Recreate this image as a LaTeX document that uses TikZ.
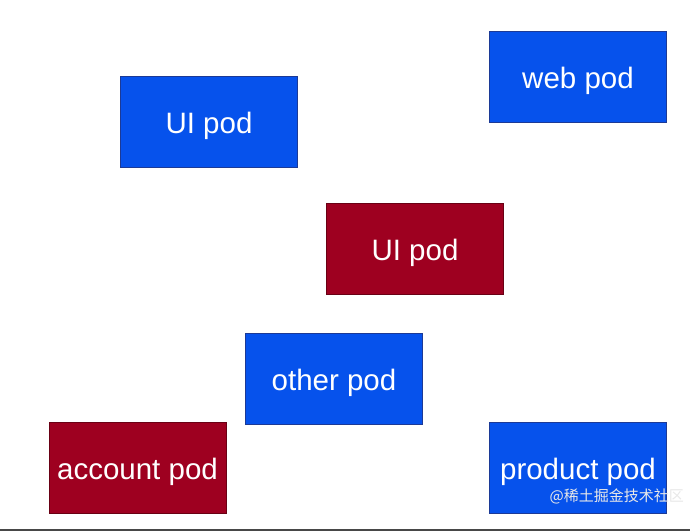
\documentclass[tikz,border=0pt]{standalone}
\usepackage{fontspec}
\setmainfont{Liberation Sans}
\newfontfamily\cjkfont{Noto Sans CJK SC}
\usepackage{xcolor}
\usetikzlibrary{positioning}

\definecolor{podblue}{RGB}{6,82,236}
\definecolor{podblueline}{RGB}{28,58,150}
\definecolor{podred}{RGB}{158,0,32}
\definecolor{podredline}{RGB}{105,0,20}
\definecolor{bargray}{RGB}{72,72,72}

\begin{document}
\begin{tikzpicture}[
  x=1pt, y=-1pt,
  pod/.style={rectangle, draw=podblueline, line width=0.8pt, fill=podblue,
              minimum width=177pt, minimum height=91pt, inner sep=0pt,
              text height=22pt, text depth=0pt,
              text=white, font=\fontsize{29.5}{34}\selectfont},
  redpod/.style={pod, draw=podredline, fill=podred}
]
\useasboundingbox[fill=white] (0,0) rectangle (690,531);

% Blue pods
\node[pod] (ui) at (209,122) {UI pod};
\node[pod] (web) at (578,77) {web pod};
\node[pod] (other) at (334,379) {other pod};
\node[pod] (product) at (578,468) {product pod};

% Red pods
\node[redpod] (uired) at (415,249) {UI pod};
\node[redpod] (account) at (137.5,468) {account pod};

% Watermark
\node[text=white!82!gray, font=\cjkfont\fontsize{15}{17}\selectfont, anchor=east, inner sep=0pt]
  (mark) at (684,496) {@稀土掘金技术社区};

% Bottom bar
\fill[bargray] (0,528.5) rectangle (690,531);
\end{tikzpicture}
\end{document}
